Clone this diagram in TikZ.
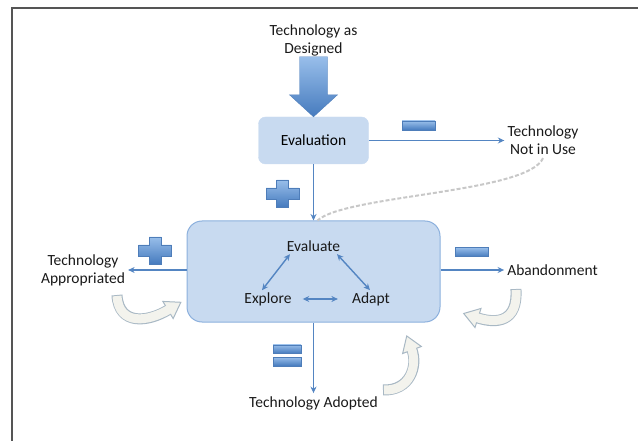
\documentclass[tikz,border=0pt]{standalone}
\usepackage{fontspec}
\setmainfont{Carlito}
\usetikzlibrary{arrows.meta,calc}

\definecolor{boxblue}{RGB}{200,218,240}
\definecolor{boxedge}{RGB}{140,176,221}
\definecolor{linkblue}{RGB}{84,133,194}
\definecolor{signtop}{RGB}{152,190,234}
\definecolor{signbottom}{RGB}{70,123,190}
\definecolor{signedge}{RGB}{78,125,185}
\definecolor{cream}{RGB}{243,243,237}
\definecolor{creamedge}{RGB}{168,184,196}
\definecolor{dashgray}{RGB}{200,200,200}
\definecolor{framegray}{RGB}{85,85,85}
\definecolor{textgray}{RGB}{25,25,25}

\tikzset{
    stage/.style={
           rectangle,
           fill=boxblue,
           draw=boxblue,
           inner sep=2pt,
           text centered,
           },
    outcome/.style={
           align=center,
           inner sep=3pt,
           text=textgray,
           },
    phase/.style={
           inner sep=2pt,
           text=textgray,
           },
    link/.style={draw=linkblue, line width=1.4pt},
    bar/.style={
           rectangle,
           inner sep=0pt,
           top color=signtop,
           bottom color=signbottom,
           draw=signedge, thin,
           },
    plussign/.pic={
        \shade[top color=signtop, bottom color=signbottom, draw=signedge, thin]
            (-6,-13.5) -- (6,-13.5) -- (6,-5.5) -- (16.5,-5.5) -- (16.5,5.5)
            -- (6,5.5) -- (6,13.5) -- (-6,13.5) -- (-6,5.5) -- (-16.5,5.5)
            -- (-16.5,-5.5) -- (-6,-5.5) -- cycle;
    },
    bandedge/.style={draw=creamedge, line width=11pt},
    bandfill/.style={draw=cream, line width=9pt},
    fadedash/.style={draw=dashgray, line width=2pt, dash pattern=on 4pt off 2pt},
    >={Stealth[length=6.5pt,width=6pt]},
}

% curved block arrow: tail, control, control, end of the band
\newcommand{\bentarrow}[4]{%
    \draw[bandedge, shorten <=-1pt] #1 .. controls #2 and #3 .. #4;
    \filldraw[fill=cream, draw=creamedge, line width=1pt]
        ($#4!10pt!90:#3$) -- ($#4!-15pt!#3$) -- ($#4!10pt!-90:#3$) -- cycle;
    \draw[bandfill, shorten >=-1.5pt] #1 .. controls #2 and #3 .. #4;
}

\begin{document}
\begin{tikzpicture}[x=1pt, y=-1pt, font=\fontsize{15.5pt}{18pt}\selectfont]
    \useasboundingbox (0,0) rectangle (638,441);
    \draw[framegray, line width=2pt] (638,8.5) -- (12,8.5) -- (12,441);

    % the big box with the three activities
    \node[stage,            % layout (defined above)
    draw=boxedge, line width=1pt,
    rounded corners=15pt,
    minimum width=253pt,
    minimum height=101pt] (main) at (313.5,271.5) {};

    \node[phase, above of=main, node distance=25pt] (evaluate) {Evaluate};
    \node[phase, below of=main, node distance=27.5pt, xshift=-45.5pt] (explore) {Explore};
    \node[phase, below of=main, node distance=27.5pt, xshift=57.5pt] (adapt) {Adapt};

    % first look at the technology
    \node[stage,            % layout (defined above)
    rounded corners=7pt,
    minimum width=110pt,
    minimum height=47pt,
    above of=main,
    node distance=131pt] (evaluation) {Evaluation};

    \node[outcome, above of=evaluation, node distance=100pt] (designed) {Technology as\\Designed};
    \node[outcome, right of=evaluation, node distance=229.5pt] (notinuse) {Technology\\Not in Use};
    \node[outcome, left of=main, node distance=230.5pt, yshift=1.5pt] (appropriated) {Technology\\Appropriated};
    \node[outcome, right of=main, node distance=239pt, yshift=1.5pt] (abandon) {Abandonment};
    \node[outcome, below of=main, node distance=131.5pt] (adopted) {Technology Adopted};

    % wide arrow into the evaluation
    \shade[top color=signtop, bottom color=signbottom, draw=signedge, thin]
        (evaluation.north) -- ++(-24,-22) -- ++(10,0) -- ++(0,-38)
        -- ++(28,0) -- ++(0,38) -- ++(10,0) -- cycle;

    % the paths out of the boxes
    \draw[fadedash] (notinuse.south) .. controls (528,193) and (345,195) .. ([xshift=4pt]main.north);
    \draw[link, ->] (evaluation) -- (notinuse);
    \draw[link, ->] (evaluation) -- (main);
    \draw[link, ->] (main.west |- appropriated.east) -- (appropriated.east);
    \draw[link, ->] (main.east |- abandon.west) -- (abandon.west);
    \draw[link, ->] (main) -- (adopted);

    % cycle inside the big box
    \draw[link, <->] ([xshift=-6pt]explore.north) -- ([xshift=-23.5pt]evaluate.south);
    \draw[link, <->] ([xshift=23.5pt]evaluate.south) -- ([xshift=-1pt]adapt.north);
    \draw[link, <->, shorten <=9pt, shorten >=12pt] (explore.east) -- (adapt.west);

    % signs on the paths
    \node[bar, minimum width=33pt, minimum height=9pt] (minusnotuse) at (418.5,125.5) {};
    \node[bar, minimum width=33pt, minimum height=9pt] (minusabandon) at (471.5,252) {};
    \node[bar, minimum width=28pt, minimum height=8.5pt] (equaltop) at (287,349) {};
    \node[bar, minimum width=28pt, minimum height=8.5pt] (equalbottom) at (287,361.5) {};
    \pic (plusmain) at (282.5,193.5) {plussign};
    \pic (plusappropriated) at (155,250.5) {plussign};

    % curved arrows around the box
    \bentarrow{(117,296)}{(119,326)}{(148,322)}{(168,310)}
    \bentarrow{(516,290)}{(518,322)}{(497,324)}{(478,318)}
    \bentarrow{(384,390)}{(410,391)}{(418,366)}{(412,350)}
\end{tikzpicture}
\end{document}
